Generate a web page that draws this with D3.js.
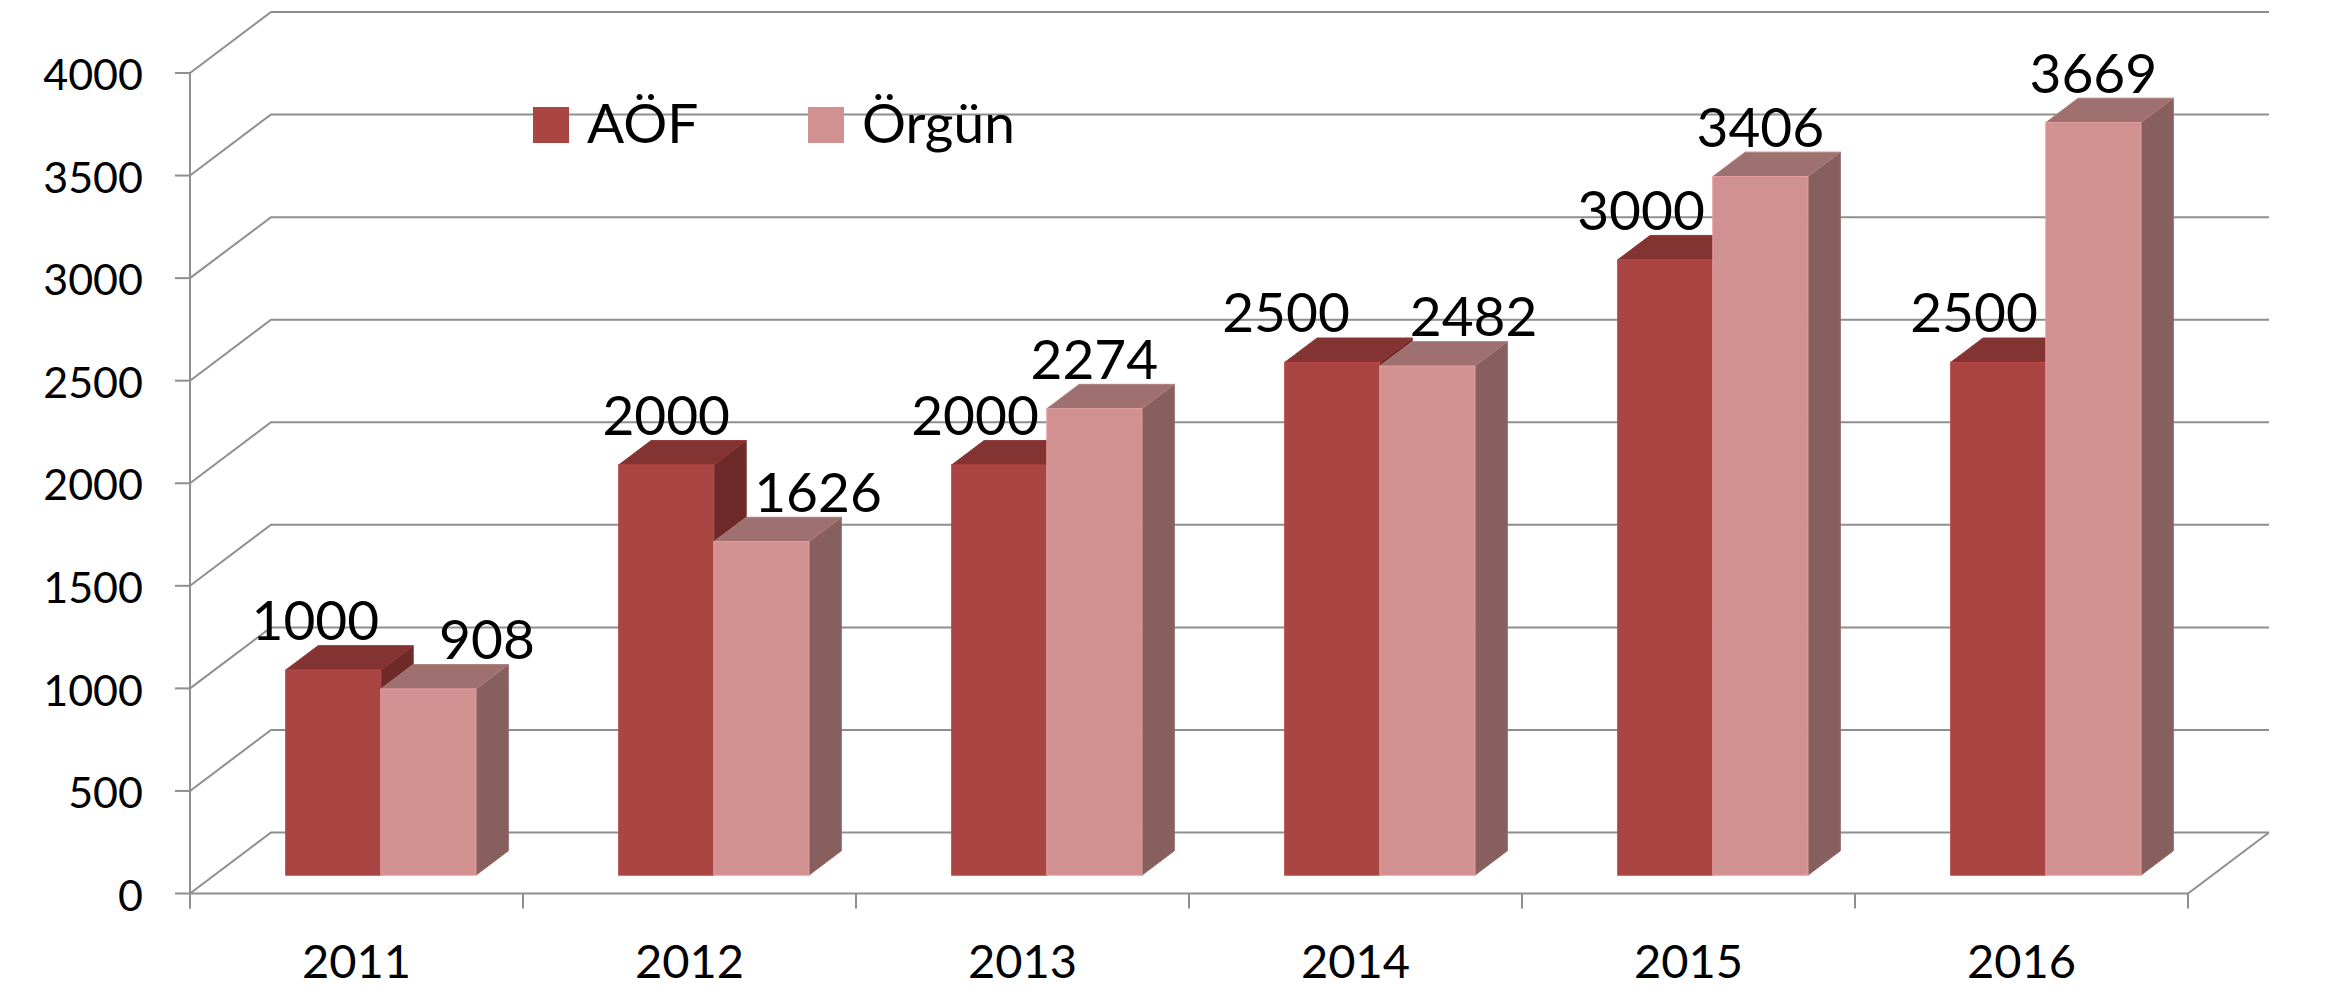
<!DOCTYPE html>
<html>
<head>
<meta charset="utf-8">
<script src="https://cdn.jsdelivr.net/npm/d3@7"></script>
<style>
  html, body { margin: 0; padding: 0; background: #fff; }
  svg text { font-family: Lato, "Open Sans", sans-serif; fill: #000; }
</style>
</head>
<body>
<div id="chart"></div>
<script>
const years = ["2011", "2012", "2013", "2014", "2015", "2016"];
const seriesNames = ["AÖF", "Örgün"];
const aofValues = [1000, 2000, 2000, 2500, 3000, 2500];
const orgunValues = [908, 1626, 2274, 2482, 3406, 3669];
const yTicks = [0, 500, 1000, 1500, 2000, 2500, 3000, 3500, 4000];

const W = 2335, H = 1007;
const colors = {
  "AÖF": { front: "#a94542", top: "#833332", side: "#6d2a29" },
  "Örgün": { front: "#d29191", top: "#9e7070", side: "#865f5e" }
};
const grid = "#8f8f8f";

// floor front-left corner, and the full depth vector of the box
const left = 190, right = 2188;
const depth = { x: 81, y: -61 };
const barDepth0 = 0.3, barDepth = 0.4;

const svg = d3.select("#chart").append("svg")
  .attr("width", W).attr("height", H);

const x = d3.scaleBand().domain(years).range([left, right]);
const inner = d3.scaleBand().domain(seriesNames)
  .range([0, x.bandwidth()]).paddingInner(0).paddingOuter(0.75);
const y = d3.scaleLinear().domain([0, 4000]).range([893.5, 73]);

const line = d3.line();

// walls: gridlines (left diagonal + back horizontal)
svg.append("g").selectAll("path").data(yTicks).join("path")
  .attr("d", d => line([
    [left, y(d)],
    [left + depth.x, y(d) + depth.y],
    [right + depth.x, y(d) + depth.y]
  ]))
  .attr("fill", "none").attr("stroke", grid).attr("stroke-width", 2);

// floor front edge and right diagonal
svg.append("path")
  .attr("d", line([[left, y(0)], [right, y(0)], [right + depth.x, y(0) + depth.y]]))
  .attr("fill", "none").attr("stroke", grid).attr("stroke-width", 2);

// value axis
svg.append("line")
  .attr("x1", left).attr("x2", left)
  .attr("y1", y(4000)).attr("y2", y(0) + 15)
  .attr("stroke", grid).attr("stroke-width", 2);

const yAxis = svg.append("g").selectAll("g").data(yTicks).join("g");
yAxis.append("line")
  .attr("x1", left - 15).attr("x2", left)
  .attr("y1", d => y(d)).attr("y2", d => y(d))
  .attr("stroke", grid).attr("stroke-width", 2);
yAxis.append("text")
  .attr("x", left - 47).attr("y", d => y(d)).attr("dy", "0.4em")
  .attr("text-anchor", "end").attr("font-size", 43)
  .text(d => d);

// category axis
const bounds = years.map(d => x(d)).concat([right]);
svg.append("g").selectAll("line").data(bounds).join("line")
  .attr("x1", d => d).attr("x2", d => d)
  .attr("y1", y(0)).attr("y2", y(0) + 15)
  .attr("stroke", grid).attr("stroke-width", 2);
svg.append("g").selectAll("text").data(years).join("text")
  .attr("x", d => x(d) + x.bandwidth() / 2)
  .attr("y", y(0) + 84)
  .attr("text-anchor", "middle").attr("font-size", 47)
  .text(d => d);

// bars
const rows = [];
years.forEach((yr, i) => {
  rows.push({ year: yr, name: "AÖF", value: aofValues[i] });
  rows.push({ year: yr, name: "Örgün", value: orgunValues[i] });
});

const fx = d => x(d.year) + inner(d.name) + barDepth0 * depth.x;
const base = y(0) + barDepth0 * depth.y;
const barTop = d => y(d.value) + barDepth0 * depth.y;
const bw = inner.bandwidth();
const dx = barDepth * depth.x, dy = barDepth * depth.y;

const bars = svg.append("g").selectAll("g").data(rows).join("g");
bars.append("path")
  .attr("d", d => line([
    [fx(d) + bw, barTop(d)], [fx(d) + bw + dx, barTop(d) + dy],
    [fx(d) + bw + dx, base + dy], [fx(d) + bw, base]
  ]) + "Z")
  .attr("fill", d => colors[d.name].side)
  .attr("stroke", d => d3.color(colors[d.name].side).brighter(0.3)).attr("stroke-width", 1);
bars.append("path")
  .attr("d", d => line([
    [fx(d), barTop(d)], [fx(d) + bw, barTop(d)],
    [fx(d) + bw + dx, barTop(d) + dy], [fx(d) + dx, barTop(d) + dy]
  ]) + "Z")
  .attr("fill", d => colors[d.name].top)
  .attr("stroke", d => d3.color(colors[d.name].top).brighter(0.3)).attr("stroke-width", 1);
bars.append("rect")
  .attr("x", fx).attr("y", barTop)
  .attr("width", bw).attr("height", d => base - barTop(d))
  .attr("fill", d => colors[d.name].front)
  .attr("stroke", d => d3.color(colors[d.name].front).brighter(0.25)).attr("stroke-width", 1);

// data labels: above each front face, kept clear of the taller neighbour
// bar and of each other
const labels = svg.append("g").selectAll("text").data(rows).join("text")
  .attr("text-anchor", "middle").attr("font-size", 55)
  .text(d => d.value);
labels.each(function (d) {
  d.w = this.getComputedTextLength();
  d.lx = fx(d) + bw / 2;
  d.ly = barTop(d) - 30;
});
years.forEach(yr => {
  const [a, b] = rows.filter(r => r.year === yr);
  if (a.value > b.value && b.ly > barTop(a) + dy) {
    b.lx = Math.max(b.lx, fx(a) + bw + dx + 8 + b.w / 2);
  }
  if (b.value > a.value && a.ly > barTop(b) + dy) {
    a.lx = Math.min(a.lx, fx(b) - 8 - a.w / 2);
  }
  const need = (a.w + b.w) / 2 + 60;
  if (Math.abs(a.ly - b.ly) < 46 && b.lx - a.lx < need) {
    const push = (need - (b.lx - a.lx)) / 2;
    a.lx -= push;
    b.lx += push;
  }
});
labels.attr("x", d => d.lx).attr("y", d => d.ly);

// legend
const legend = svg.append("g").attr("transform", "translate(533,107)")
  .selectAll("g").data(seriesNames).join("g")
  .attr("transform", (d, i) => `translate(${i * 275},0)`);
legend.append("rect")
  .attr("width", 36).attr("height", 36)
  .attr("fill", d => colors[d].front);
legend.append("text")
  .attr("x", 54).attr("y", 36).attr("font-size", 55)
  .text(d => d);
</script>
</body>
</html>
